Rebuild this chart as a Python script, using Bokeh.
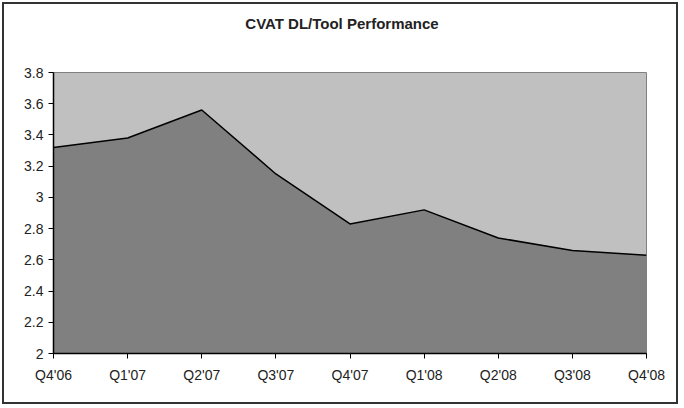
from bokeh.plotting import figure
from bokeh.models import FixedTicker, Range1d, InlineStyleSheet, Div
from bokeh.layouts import column
from bokeh.embed import file_html
from bokeh.resources import INLINE

quarters = ["Q4'06", "Q1'07", "Q2'07", "Q3'07", "Q4'07", "Q1'08", "Q2'08", "Q3'08", "Q4'08"]
performance = [3.32, 3.38, 3.56, 3.15, 2.83, 2.92, 2.74, 2.66, 2.63]
y_ticks = [2.0, 2.2, 2.4, 2.6, 2.8, 3.0, 3.2, 3.4, 3.6, 3.8]
y_tick_labels = ["2", "2.2", "2.4", "2.6", "2.8", "3", "3.2", "3.4", "3.6", "3.8"]
title_text = "CVAT DL/Tool Performance"

xs = list(range(len(quarters)))

title_div = Div(text=title_text, width=684, height=48, margin=0,
                styles={"font-family": "Liberation Sans", "font-size": "15px",
                        "font-weight": "bold", "color": "#222222",
                        "text-align": "center", "line-height": "48px",
                        "background-color": "white"})

p = figure(width=684, height=360, output_backend="svg", toolbar_location=None,
           x_range=Range1d(0, len(quarters) - 1), y_range=Range1d(2.0, 3.8),
           min_border_left=53, min_border_right=38, min_border_top=24, min_border_bottom=55)

p.background_fill_color = "#c0c0c0"
p.border_fill_color = "white"
p.outline_line_color = "#808080"
p.outline_line_width = 1
p.grid.visible = False

p.varea(x=xs, y1=[2.0] * len(xs), y2=performance, fill_color="#808080")
p.line(x=xs, y=performance, line_color="black", line_width=1.5)

p.xaxis.ticker = FixedTicker(ticks=xs)
p.xaxis.major_label_overrides = {i: q for i, q in enumerate(quarters)}
p.yaxis.ticker = FixedTicker(ticks=y_ticks)
p.yaxis.major_label_overrides = {t: l for t, l in zip(y_ticks, y_tick_labels)}

for ax in (p.xaxis, p.yaxis):
    ax.axis_line_color = "black"
    ax.axis_line_width = 1.5
    ax.major_tick_line_color = "black"
    ax.major_tick_out = 5
    ax.major_tick_in = 0
    ax.minor_tick_line_color = None
    ax.major_label_text_font = "Liberation Sans"
    ax.major_label_text_font_size = "14px"
    ax.major_label_text_color = "#222222"
p.xaxis.major_label_standoff = 8
p.yaxis.major_label_standoff = 5

layout = column(title_div, p, spacing=0, margin=0,
                styles={"background-color": "white"},
                stylesheets=[InlineStyleSheet(css="""
:host { position: relative; }
:host::after {
  content: "";
  position: absolute;
  left: 2px; top: 2px; width: 672px; height: 398px;
  border: 2px solid #333333;
  z-index: 1000;
  pointer-events: none;
}
""")])

open("out.html", "w").write(file_html(layout, INLINE))
